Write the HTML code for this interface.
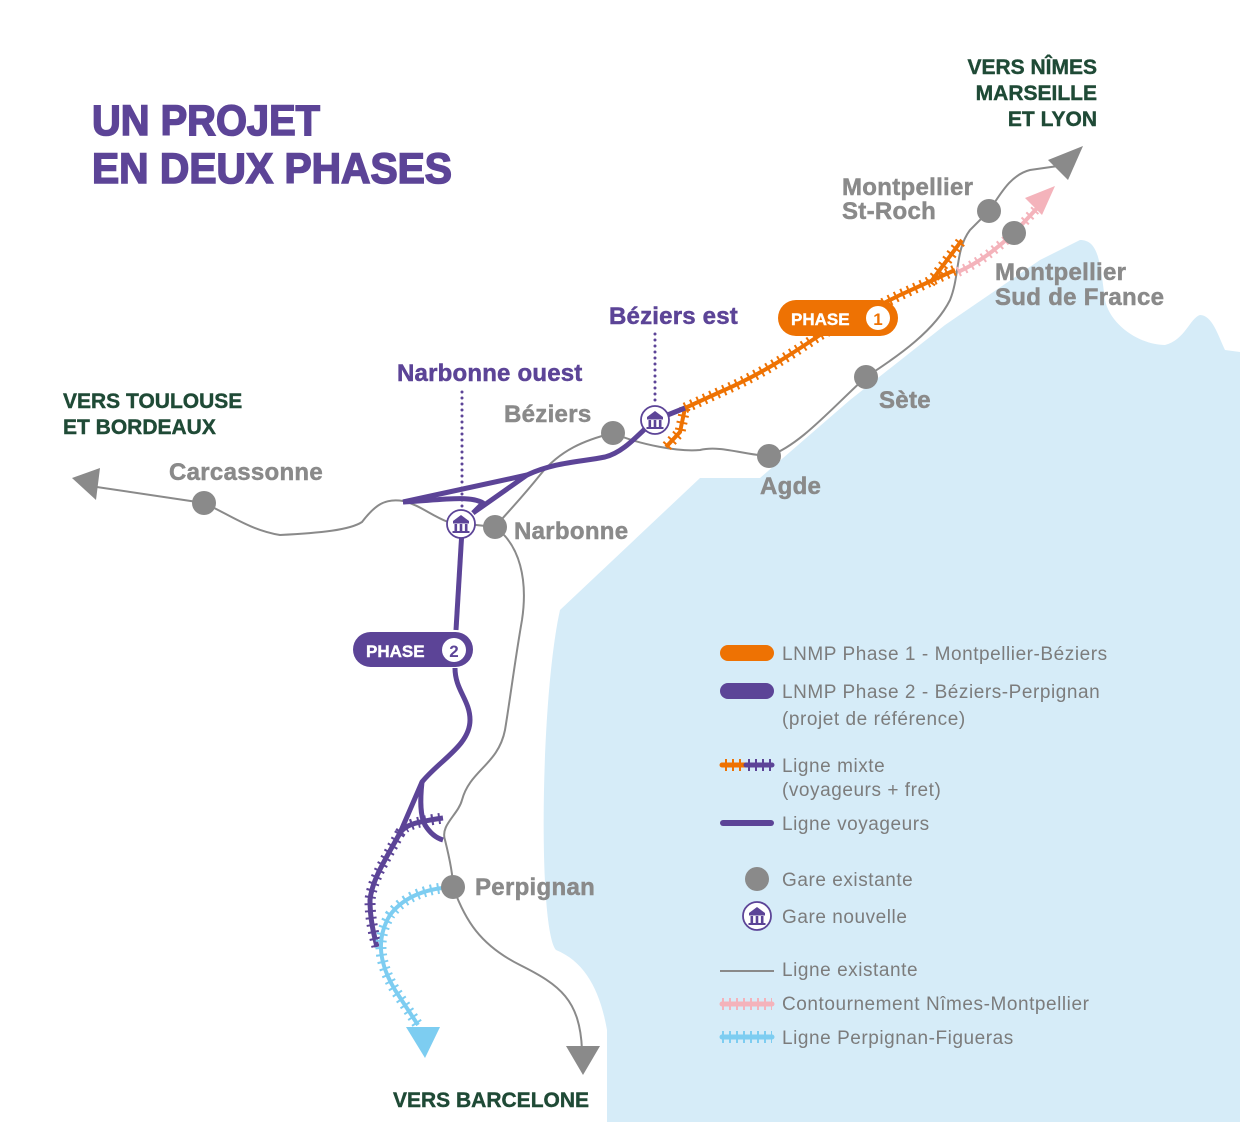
<!DOCTYPE html>
<html><head><meta charset="utf-8"><style>
html,body{margin:0;padding:0;background:#fff}
svg{display:block}
text{font-family:"Liberation Sans",sans-serif}
.g{fill:#8a8a8a;font-weight:bold;font-size:24px;stroke:#8a8a8a;stroke-width:0.5;letter-spacing:0.3px}
.p{fill:#5c4497;font-weight:bold;font-size:24px;stroke:#5c4497;stroke-width:0.5;letter-spacing:0.2px}
.d{fill:#1f4a36;font-weight:bold;font-size:21px;stroke:#1f4a36;stroke-width:0.4}
.l{fill:#7c7c7c;font-size:19px;letter-spacing:0.55px}
</style></head><body>
<svg width="1240" height="1122" viewBox="0 0 1240 1122" xmlns="http://www.w3.org/2000/svg">
<defs>
<g id="gn">
<circle r="14" fill="#fff" stroke="#5c4497" stroke-width="1.8"/>
<path d="M-8,-3 L0,-9 L8,-3 Z" fill="#5c4497"/>
<rect x="-8" y="-3" width="16" height="2.5" fill="#5c4497"/>
<rect x="-6.5" y="0" width="2.6" height="7" fill="#5c4497"/>
<rect x="-1.3" y="0" width="2.6" height="7" fill="#5c4497"/>
<rect x="3.9" y="0" width="2.6" height="7" fill="#5c4497"/>
<rect x="-8.5" y="7" width="17" height="2" fill="#5c4497"/>
</g>
</defs>
<path d="M607,1122 L607,1030 C600,990 585,962 556,950 C538,930 540,700 560,610 L700,478 L760,478 L850,400 L945,325 L1040,260 L1080,240 C1098,240 1100,260 1105,300 C1110,325 1140,345 1165,345 C1185,340 1190,318 1200,315 C1212,315 1218,335 1225,350 L1240,352 L1240,1122 Z" fill="#d6ecf8"/>

<g fill="none" stroke="#8a8a8a" stroke-width="2">
<path d="M90,486 L204,503 C230,515 250,530 280,535 C320,533 350,530 362,522 C375,505 385,498 403,501 C420,505 430,515 448,522 L495,527"/>
<path d="M613,433 C585,440 560,450 540,475 C520,500 505,515 495,527"/>
<path d="M613,433 C640,445 680,452 700,450 C720,445 745,455 769,456 C800,445 830,410 866,377 C900,355 935,330 950,300 C960,275 955,250 970,230 L989,211 C1000,195 1010,175 1030,170 L1058,166"/>
<path d="M495,527 C520,545 528,580 522,620 C515,660 510,700 505,730 C498,765 470,770 462,800 C458,815 440,825 445,840 C450,860 453,875 453,887 C465,920 480,945 520,965 C560,985 580,1000 582,1050"/>
</g>
<path d="M72,478 L100,468 L96,500 Z" fill="#8a8a8a"/>
<path d="M1083,146 L1048,160 L1068,180 Z" fill="#8a8a8a"/>
<path d="M583,1075 L566,1046 L600,1046 Z" fill="#8a8a8a"/>

<g fill="none" stroke="#f4b3bb">
<path d="M958,272 C980,262 995,250 1014,233 L1040,205" stroke-width="4"/>
<path d="M958,272 C980,262 995,250 1014,233 L1040,205" stroke-width="10" stroke-dasharray="2 5"/>
</g>
<path d="M1055,186 L1025,198 L1042,215 Z" fill="#f4b3bb"/>

<g fill="none" stroke="#ee7203">
<path d="M685,408 L720,392 C760,375 790,355 820,335 L860,315 L900,295 L955,270 M930,283 L962,240 M685,408 L680,432 L666,447" stroke-width="4"/>
<path d="M685,408 L720,392 C760,375 790,355 820,335 L860,315 L900,295 L955,270 M930,283 L962,240 M685,408 L680,432 L666,447" stroke-width="11" stroke-dasharray="2 5"/>
</g>
<rect x="778" y="300" width="120" height="36" rx="18" fill="#ee7203"/>
<text x="791" y="325" fill="#fff" font-weight="bold" font-size="17" stroke="#fff" stroke-width="0.4">PHASE</text>
<circle cx="878" cy="318" r="12" fill="#fff"/>
<text x="878" y="325" fill="#ee7203" font-weight="bold" font-size="17" text-anchor="middle">1</text>

<g fill="none" stroke="#5c4497" stroke-width="5" stroke-linejoin="round">
<path d="M685,408 L655,420 C640,432 625,452 605,457 C580,462 555,462 527,475"/>
<path d="M403,502 L527,475 L473,513"/>
<path d="M403,502 C440,500 470,495 483,503 L473,513"/>
<path d="M462,530 L456,630"/>
<path d="M455,668 C455,690 470,700 470,720 C470,745 440,760 422,782 L400,833 C385,860 372,880 370,900 C370,920 374,935 377,947"/>
<path d="M422,782 C420,800 420,815 425,825 C430,833 436,838 443,840"/>
<path d="M400,833 C405,825 415,822 443,818"/>
</g>
<g fill="none" stroke="#5c4497" stroke-width="11" stroke-dasharray="2 5">
<path d="M400,833 C385,860 372,880 370,900 C370,920 374,935 377,947"/>
<path d="M400,833 C405,825 415,822 443,818"/>
</g>
<rect x="353" y="632" width="120" height="35" rx="17.5" fill="#5c4497"/>
<text x="366" y="657" fill="#fff" font-weight="bold" font-size="17" stroke="#fff" stroke-width="0.4">PHASE</text>
<circle cx="454" cy="650" r="12" fill="#fff"/>
<text x="454" y="657" fill="#5c4497" font-weight="bold" font-size="17" text-anchor="middle">2</text>

<g fill="none" stroke="#7dcdf1">
<path d="M453,887 C430,888 405,895 390,915 C375,940 380,965 395,990 L418,1025" stroke-width="4"/>
<path d="M453,887 C430,888 405,895 390,915 C375,940 380,965 395,990 L418,1025" stroke-width="11" stroke-dasharray="2 5"/>
</g>
<path d="M425,1058 L406,1027 L440,1027 Z" fill="#7dcdf1"/>

<g stroke="#5c4497" stroke-width="3" stroke-linecap="round" stroke-dasharray="0 6" fill="none">
<path d="M655,334 L655,405"/>
<path d="M462,392 L462,508"/>
</g>

<g fill="#8a8a8a">
<circle cx="989" cy="211" r="12"/><circle cx="1014" cy="233" r="12"/>
<circle cx="866" cy="377" r="12"/><circle cx="769" cy="456" r="12"/>
<circle cx="613" cy="433" r="12"/><circle cx="495" cy="527" r="12"/>
<circle cx="204" cy="503" r="12"/><circle cx="453" cy="887" r="12"/>
</g>
<use href="#gn" x="655" y="420"/>
<use href="#gn" x="461" y="524"/>

<text x="92" y="135" fill="#5c4497" stroke="#5c4497" stroke-width="1.6" font-weight="bold" font-size="43" textLength="228" lengthAdjust="spacingAndGlyphs">UN PROJET</text>
<text x="92" y="183" fill="#5c4497" stroke="#5c4497" stroke-width="1.6" font-weight="bold" font-size="43" textLength="360" lengthAdjust="spacingAndGlyphs">EN DEUX PHASES</text>
<text class="d" x="1097" y="74" text-anchor="end">VERS NÎMES</text>
<text class="d" x="1097" y="100" text-anchor="end">MARSEILLE</text>
<text class="d" x="1097" y="126" text-anchor="end">ET LYON</text>
<text class="d" x="63" y="408">VERS TOULOUSE</text>
<text class="d" x="63" y="434">ET BORDEAUX</text>
<text class="d" x="393" y="1107">VERS BARCELONE</text>
<text class="g" x="842" y="195">Montpellier</text>
<text class="g" x="842" y="219">St-Roch</text>
<text class="g" x="995" y="280">Montpellier</text>
<text class="g" x="995" y="305">Sud de France</text>
<text class="g" x="879" y="408">Sète</text>
<text class="g" x="760" y="494">Agde</text>
<text class="g" x="504" y="422">Béziers</text>
<text class="g" x="514" y="539">Narbonne</text>
<text class="g" x="169" y="480">Carcassonne</text>
<text class="g" x="475" y="895">Perpignan</text>
<text class="p" x="609" y="324">Béziers est</text>
<text class="p" x="397" y="381">Narbonne ouest</text>

<rect x="720" y="645" width="54" height="16" rx="8" fill="#ee7203"/>
<rect x="720" y="683" width="54" height="16" rx="8" fill="#5c4497"/>
<path d="M722,765 L746,765" stroke="#ee7203" stroke-width="5" stroke-linecap="round"/>
<path d="M722,765 L746,765" stroke="#ee7203" stroke-width="12" stroke-dasharray="2 5" stroke-dashoffset="-3"/>
<path d="M746,765 L772,765" stroke="#5c4497" stroke-width="5" stroke-linecap="round"/>
<path d="M746,765 L772,765" stroke="#5c4497" stroke-width="12" stroke-dasharray="2 5" stroke-dashoffset="-2"/>
<path d="M723,823 L771,823" stroke="#5c4497" stroke-width="6" stroke-linecap="round"/>
<circle cx="757" cy="879" r="12" fill="#8a8a8a"/>
<use href="#gn" x="757" y="916"/>
<path d="M720,971 L774,971" stroke="#8a8a8a" stroke-width="2"/>
<path d="M722,1004 L772,1004" stroke="#f4b3bb" stroke-width="5" stroke-linecap="round"/>
<path d="M722,1004 L772,1004" stroke="#f4b3bb" stroke-width="12" stroke-dasharray="2 5"/>
<path d="M722,1037 L772,1037" stroke="#7dcdf1" stroke-width="5" stroke-linecap="round"/>
<path d="M722,1037 L772,1037" stroke="#7dcdf1" stroke-width="12" stroke-dasharray="2 5"/>
<text class="l" x="782" y="660">LNMP Phase 1 - Montpellier-Béziers</text>
<text class="l" x="782" y="698">LNMP Phase 2 - Béziers-Perpignan</text>
<text class="l" x="782" y="725">(projet de référence)</text>
<text class="l" x="782" y="772">Ligne mixte</text>
<text class="l" x="782" y="796">(voyageurs + fret)</text>
<text class="l" x="782" y="830">Ligne voyageurs</text>
<text class="l" x="782" y="886">Gare existante</text>
<text class="l" x="782" y="923">Gare nouvelle</text>
<text class="l" x="782" y="976">Ligne existante</text>
<text class="l" x="782" y="1010">Contournement Nîmes-Montpellier</text>
<text class="l" x="782" y="1044">Ligne Perpignan-Figueras</text>
</svg>
</body></html>
